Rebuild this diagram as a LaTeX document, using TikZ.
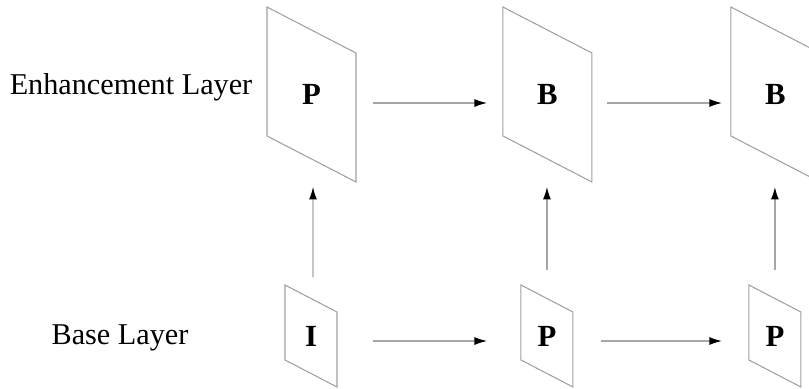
\documentclass[tikz,border=0pt]{standalone}
\usepackage{fontspec}
\setmainfont{Liberation Serif}
\usetikzlibrary{calc}
\usetikzlibrary{positioning}
\usetikzlibrary{arrows.meta}

\begin{document}
\begin{tikzpicture}[x=0.02cm,y=-0.02cm]
		\tikzstyle{bigframe} = [inner sep=0, outer sep=0, minimum width=1.78cm, minimum height=3.5cm, font=\fontsize{17.5}{19}\selectfont\bfseries]
		\tikzstyle{smallframe} = [inner sep=0, outer sep=0, minimum width=1.04cm, minimum height=2.04cm, font=\fontsize{17.5}{19}\selectfont\bfseries]
		\tikzstyle{outline} = [draw=gray!75, line width=0.6pt]
		\tikzstyle{layer} = [font=\fontsize{17.2}{20}\selectfont]
		\tikzstyle{message} = [draw=gray!70, line width=0.7pt, -{Latex[black,length=0.25cm,width=0.16cm]}]

		\clip (0,0) rectangle (809,389);

		% enhancement layer frames
		\node[bigframe] (E1) at (311.5,94.5) {P};
		\node[bigframe, right=2.94cm of E1] (E2) {B};
		\node[bigframe, right=2.78cm of E2] (E3) {B};

		% base layer frames
		\node[smallframe] (B1) at (311,336) {I};
		\node[smallframe, right=3.68cm of B1] (B2) {P};
		\node[smallframe, right=3.52cm of B2] (B3) {P};

		\node[layer] (Enh) at (131,87) {Enhancement Layer};
		\node[layer] (Base) at (120,338) {Base Layer};

		% skewed outlines of the frames
		\foreach \f/\s in {E1/46,E2/46,E3/46,B1/27,B2/27,B3/27}
			\draw[outline] (\f.north west) -- ($(\f.north east)+(0,\s)$) -- (\f.south east) -- ($(\f.south west)-(0,\s)$) -- cycle;

		\draw[message, shorten <=0.34cm, shorten >=0.32cm] ([yshift=-0.17cm]E1.east) -- ([yshift=-0.17cm]E2.west);
		\draw[message, shorten <=0.3cm, shorten >=0.18cm] ([yshift=-0.17cm]E2.east) -- ([yshift=-0.17cm]E3.west);
		\draw[message, shorten <=0.72cm, shorten >=0.68cm] ([yshift=-0.1cm]B1.east) -- ([yshift=-0.1cm]B2.west);
		\draw[message, shorten <=0.56cm, shorten >=0.54cm] ([yshift=-0.1cm]B2.east) -- ([yshift=-0.1cm]B3.west);

		\draw[message, shorten <=0.16cm, shorten >=0.1cm] ([xshift=0.04cm]B1.north) -- ([xshift=0.03cm]E1.south);
		\draw[message, shorten <=0.3cm, shorten >=0.1cm] (B2.north) -- (B2.north |- E2.south);
		\draw[message, shorten <=0.3cm, shorten >=0.1cm] (B3.north) -- (B3.north |- E3.south);

	\end{tikzpicture}
\end{document}
